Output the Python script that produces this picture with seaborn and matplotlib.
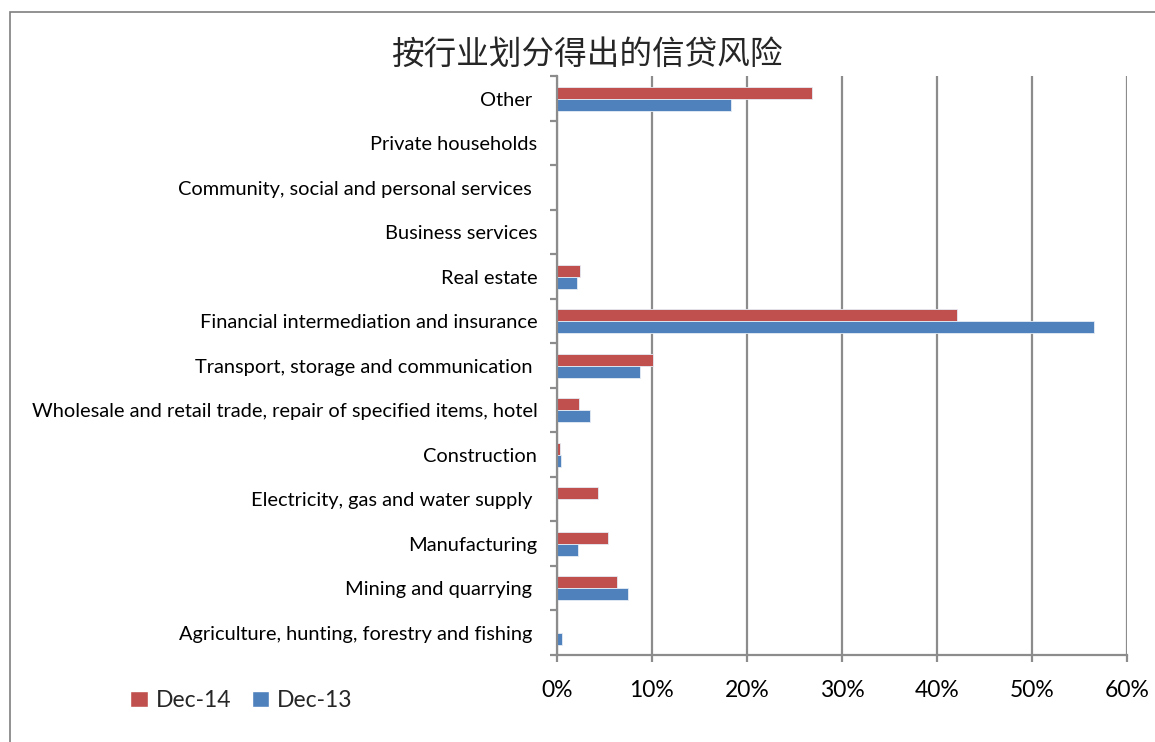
import numpy as np
import pandas as pd
import matplotlib
matplotlib.use("Agg")
import matplotlib.pyplot as plt
import seaborn as sns
from matplotlib.patches import Rectangle, Patch

# chart data (share of credit exposure, %)
categories = [
    "Other ",
    "Private households",
    "Community, social and personal services ",
    "Business services",
    "Real estate",
    "Financial intermediation and insurance",
    "Transport, storage and communication ",
    "Wholesale and retail trade, repair of specified items, hotel",
    "Construction",
    "Electricity, gas and water supply ",
    "Manufacturing",
    "Mining and quarrying ",
    "Agriculture, hunting, forestry and fishing ",
]
dec14 = [26.8, 0.0, 0.0, 0.0, 2.4, 42.1, 10.1, 2.3, 0.3, 4.3, 5.4, 6.3, 0.0]
dec13 = [18.3, 0.0, 0.0, 0.0, 2.1, 56.5, 8.8, 3.5, 0.5, 0.0, 2.2, 7.5, 0.6]
series = ["Dec-14", "Dec-13"]
x_ticks = [0, 10, 20, 30, 40, 50, 60]
title = "按行业划分得出的信贷风险"

RED = "#C0504D"
BLUE = "#4F81BD"
GRID = "#8C8C8C"

df = pd.DataFrame({
    "Industry": categories * 2,
    "Share": dec14 + dec13,
    "Series": [series[0]] * len(categories) + [series[1]] * len(categories),
})

sns.set_theme(style="white")
plt.rcParams["font.family"] = ["Lato", "DejaVu Sans"]

fig = plt.figure(figsize=(11.55, 7.42), dpi=100)
ax = fig.add_axes([0.482, 0.1173, 0.494, 0.7797])

sns.barplot(data=df, y="Industry", x="Share", hue="Series", order=categories,
            hue_order=series, palette=[RED, BLUE], saturation=1, width=0.54,
            orient="h", edgecolor="#E6ECF5", linewidth=0.6, ax=ax, legend=False)

ax.set_xlim(0, 60)
ax.set_ylim(len(categories) - 0.5, -0.5)
ax.set_xticks(x_ticks)
ax.set_xticklabels([f"{v}%" for v in x_ticks], fontsize=16.5)
ax.set_yticks(range(len(categories)))
ax.set_yticklabels(categories, fontsize=14.4)
ax.set_yticks(np.arange(-0.5, len(categories)), minor=True)
ax.tick_params(axis="y", which="major", length=0, pad=14, colors="black")
ax.tick_params(axis="y", which="minor", length=5, width=1.6, color=GRID, left=True)
ax.tick_params(axis="x", which="major", length=5, width=1.6, color=GRID,
               bottom=True, pad=13)
for t in ax.get_xticklabels():
    t.set_color("black")
ax.set_xlabel("")
ax.set_ylabel("")
ax.grid(axis="x", color=GRID, linewidth=1.6)
ax.set_axisbelow(True)
for s in ["top", "right"]:
    ax.spines[s].set_visible(False)
for s in ["left", "bottom"]:
    ax.spines[s].set_color(GRID)
    ax.spines[s].set_linewidth(1.6)

fig.text(0.508, 0.926, title, ha="center", va="center", fontsize=23.5,
         fontweight="medium", family=["Noto Sans CJK SC", "DejaVu Sans"])

handles = [Patch(facecolor=RED, label=series[0]), Patch(facecolor=BLUE, label=series[1])]
fig.legend(handles=handles, loc="center", bbox_to_anchor=(0.209, 0.056), ncol=2,
           frameon=False, fontsize=16.5, handlelength=0.75, handleheight=0.75,
           handletextpad=0.35, columnspacing=0.9)

# outer chart frame
fig.patches.append(Rectangle((10 / 1155, -0.1), 1.2, 0.984 + 0.1, transform=fig.transFigure,
                             fill=False, edgecolor="#7F7F7F", linewidth=1.2))

fig.savefig("out.png", dpi=100, facecolor="white")
